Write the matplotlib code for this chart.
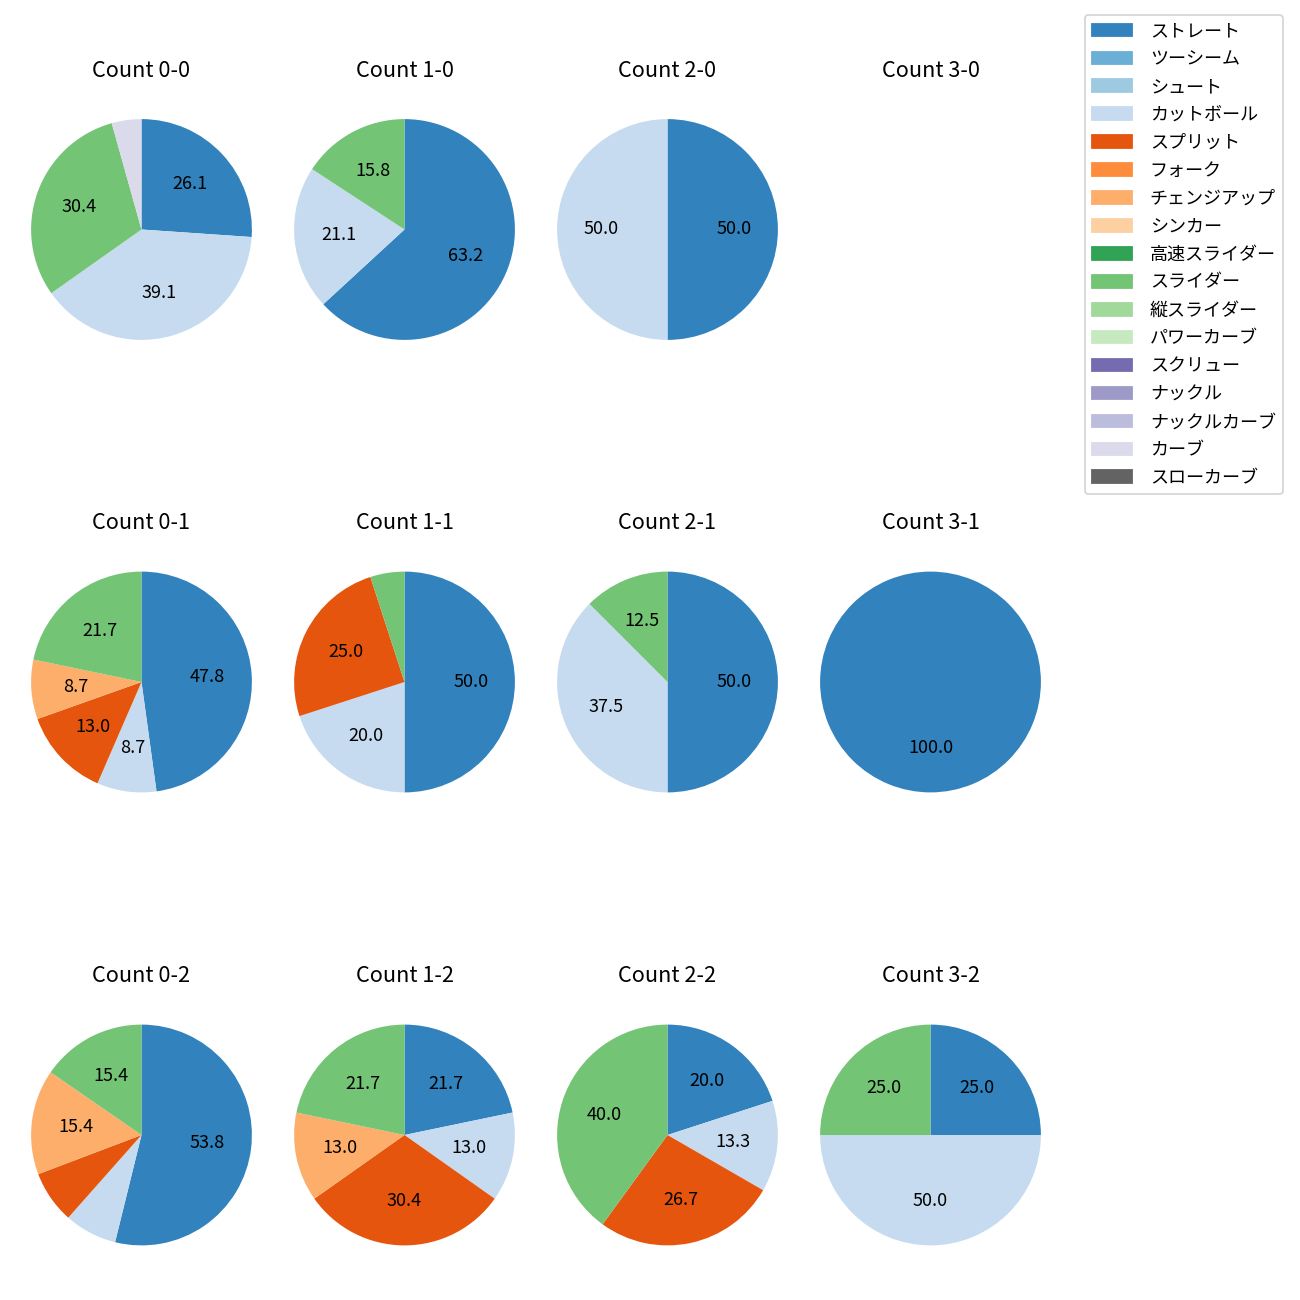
import matplotlib
matplotlib.use("Agg")
import matplotlib.pyplot as plt
from matplotlib.patches import Patch

plt.rcParams['font.family'] = ['Noto Sans CJK JP', 'DejaVu Sans']

pitch_types = ['ストレート', 'ツーシーム', 'シュート', 'カットボール', 'スプリット', 'フォーク',
               'チェンジアップ', 'シンカー', '高速スライダー', 'スライダー', '縦スライダー',
               'パワーカーブ', 'スクリュー', 'ナックル', 'ナックルカーブ', 'カーブ', 'スローカーブ']

counts_titles = ['Count 0-0', 'Count 1-0', 'Count 2-0', 'Count 3-0',
                 'Count 0-1', 'Count 1-1', 'Count 2-1', 'Count 3-1',
                 'Count 0-2', 'Count 1-2', 'Count 2-2', 'Count 3-2']

# pitch counts per situation: (pitch type, number of pitches)
c00 = {'ストレート': 6, 'カットボール': 9, 'スライダー': 7, 'カーブ': 1}
c10 = {'ストレート': 12, 'カットボール': 4, 'スライダー': 3}
c20 = {'ストレート': 1, 'カットボール': 1}
c30 = {}
c01 = {'ストレート': 11, 'カットボール': 2, 'スプリット': 3, 'チェンジアップ': 2, 'スライダー': 5}
c11 = {'ストレート': 10, 'カットボール': 4, 'スプリット': 5, 'スライダー': 1}
c21 = {'ストレート': 4, 'カットボール': 3, 'スライダー': 1}
c31 = {'ストレート': 1}
c02 = {'ストレート': 7, 'カットボール': 1, 'スプリット': 1, 'チェンジアップ': 2, 'スライダー': 2}
c12 = {'ストレート': 5, 'カットボール': 3, 'スプリット': 7, 'チェンジアップ': 3, 'スライダー': 5}
c22 = {'ストレート': 3, 'カットボール': 2, 'スプリット': 4, 'スライダー': 6}
c32 = {'ストレート': 1, 'カットボール': 2, 'スライダー': 1}

data = [c00, c10, c20, c30, c01, c11, c21, c31, c02, c12, c22, c32]

cmap = plt.get_cmap('tab20c')
color_map = {p: cmap(i) for i, p in enumerate(pitch_types)}

fig = plt.figure(figsize=(10, 10), dpi=130)
W = H = 1300.0
side = 276.0
col_cx = [141.5, 404.5, 667.5, 930.5]
row_cy = [229.5, 682.0, 1135.0]

for idx, (title, d) in enumerate(zip(counts_titles, data)):
    r, c = divmod(idx, 4)
    cx, cy = col_cx[c], row_cy[r]
    ax = fig.add_axes([(cx - side / 2) / W, (H - cy - side / 2) / H, side / W, side / H])
    if d:
        labels = [p for p in pitch_types if p in d]
        vals = [d[p] for p in labels]
        ax.pie(vals, colors=[color_map[p] for p in labels], startangle=90,
               counterclock=False,
               autopct=lambda p: f'{p:.1f}' if p >= 8 else '',
               textprops={'fontsize': 10})
    else:
        ax.set_xlim(-1.25, 1.25)
        ax.set_ylim(-1.25, 1.25)
    ax.axis('off')
    ax.set_title(title, fontsize=12, pad=8.2)

handles = [Patch(color=color_map[p], label=p) for p in pitch_types]
fig.legend(handles=handles, loc='upper right',
           bbox_to_anchor=(1283 / W, 1 - 15 / H), borderaxespad=0, fontsize=10,
           handlelength=2.2, handletextpad=1.0, labelspacing=0.55)

fig.savefig('out.png', dpi=130)
